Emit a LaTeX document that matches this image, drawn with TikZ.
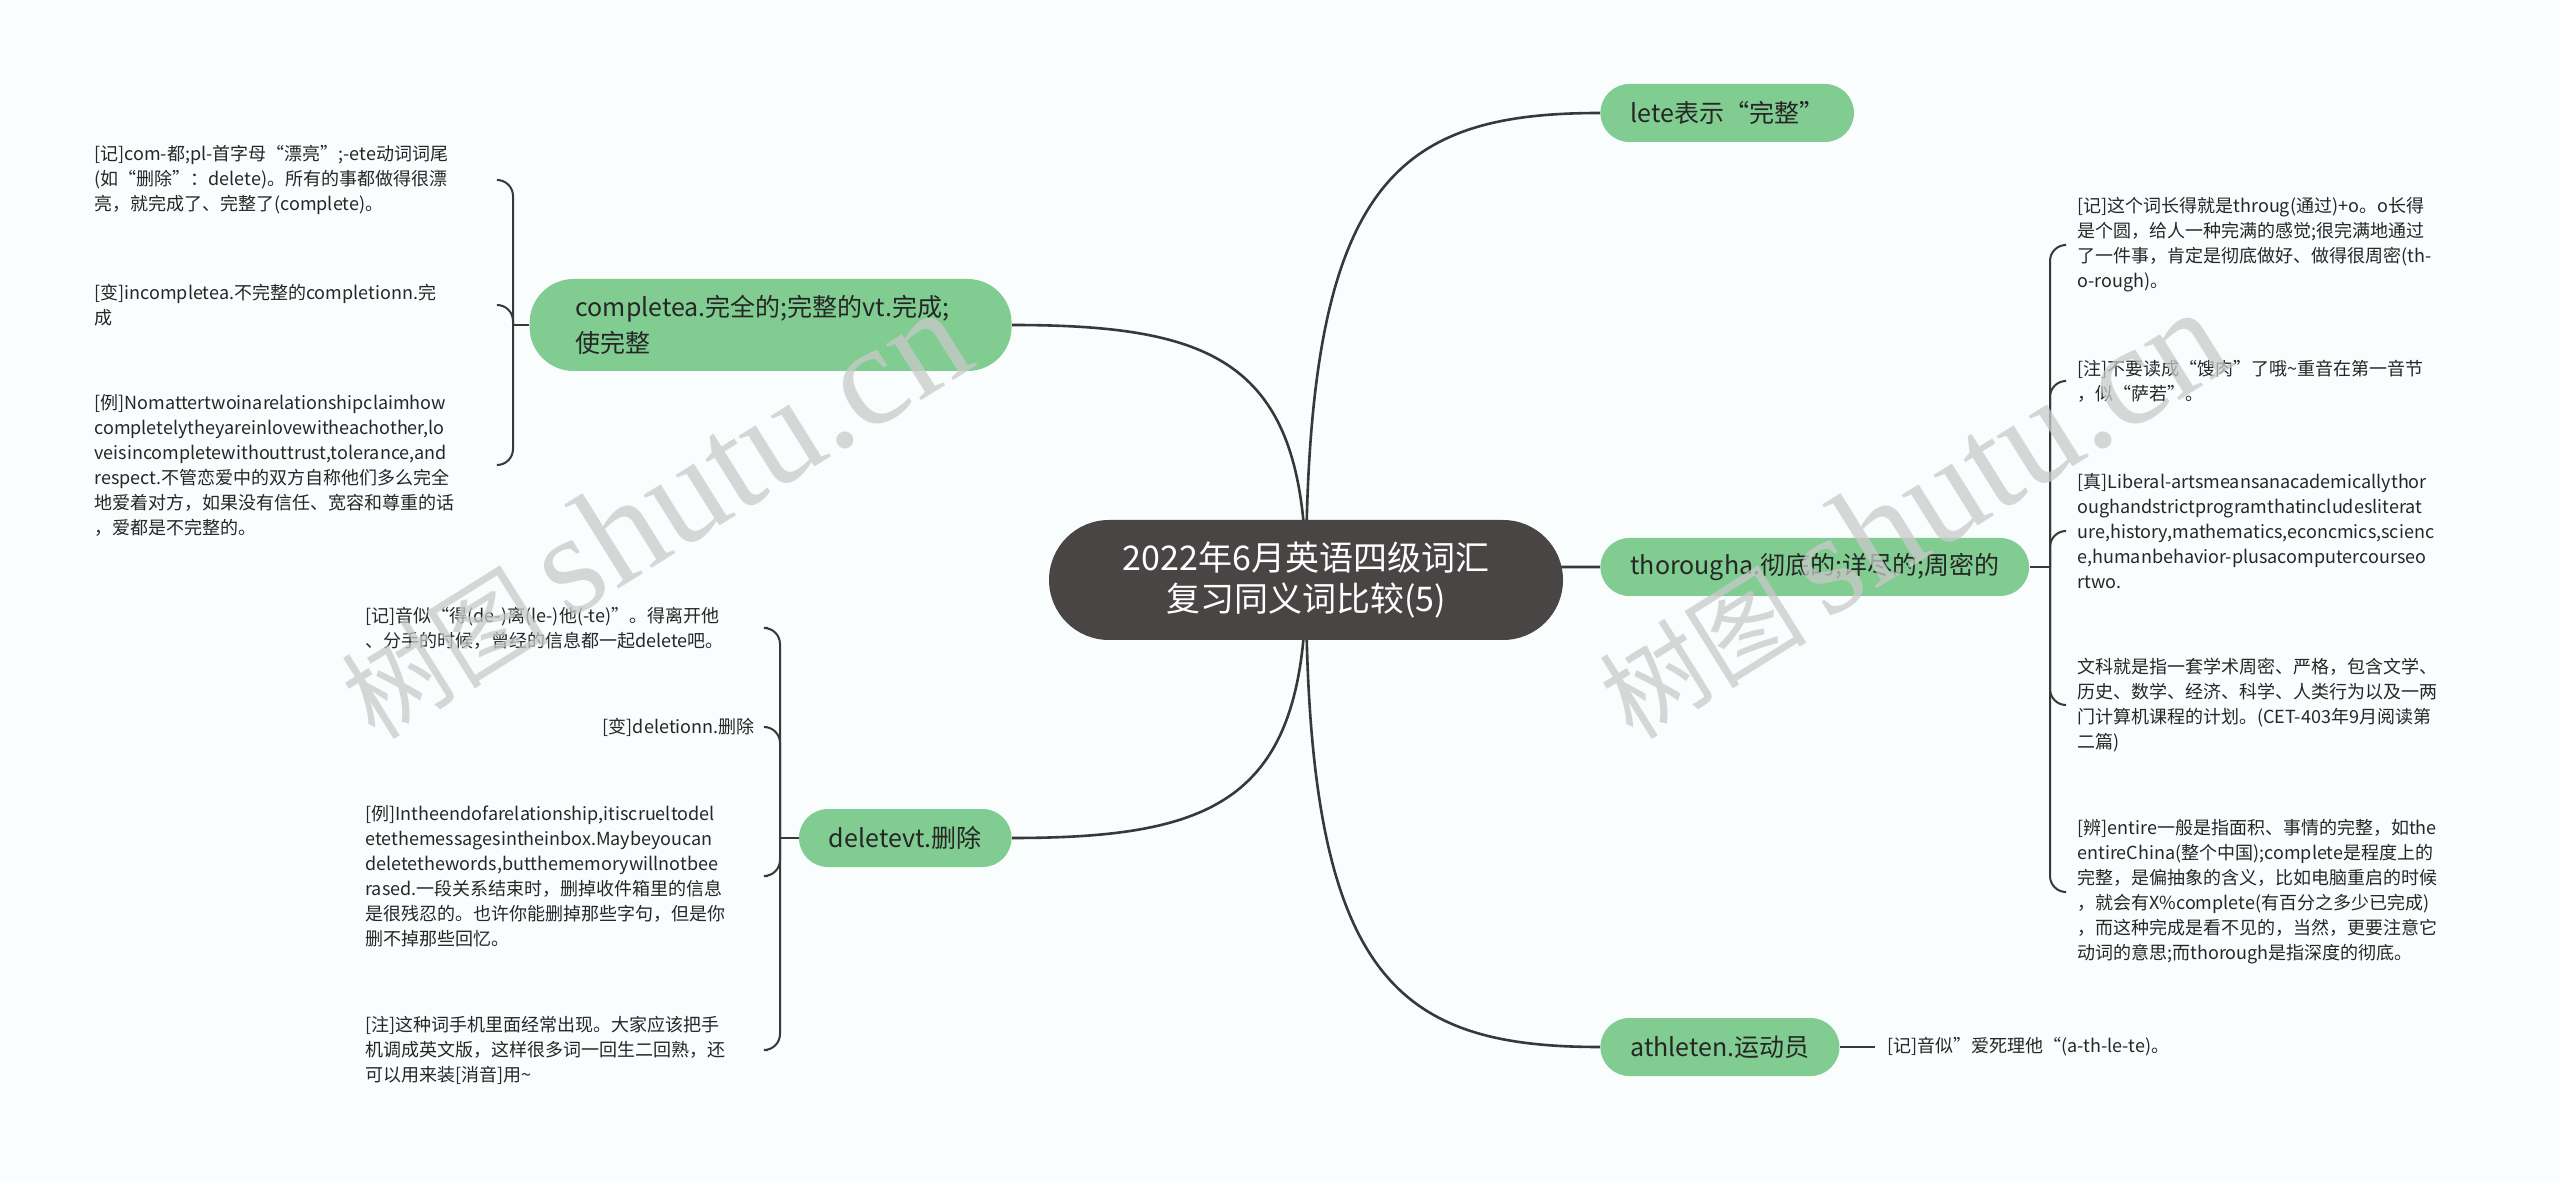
\documentclass[tikz,border=0pt]{standalone}
\usepackage{fontspec}
\setmainfont{Noto Sans CJK SC}
\newfontfamily\wmserif{Liberation Serif}
\usetikzlibrary{backgrounds}
\definecolor{bgwhite}{HTML}{FAFDFE}
\definecolor{rootgray}{HTML}{4A4545}
\definecolor{topicgreen}{HTML}{80CC91}
\definecolor{linegray}{HTML}{383838}
\definecolor{textdark}{HTML}{262626}
\definecolor{wmgray}{HTML}{C9C9C9}
\hyphenpenalty=10000
\exhyphenpenalty=10000

\begin{document}
\begin{tikzpicture}[x=0.5pt,y=-0.5pt,
        rootbox/.style={fill=rootgray, text=white, rounded corners=30pt, minimum width=257pt, minimum height=60pt, align=center, font=\fontsize{17}{20.5}\selectfont},
        topic/.style={fill=topicgreen, text=textdark, rounded corners=14.5pt, minimum height=29pt, inner xsep=15pt, font=\fontsize{12.5}{18}\selectfont},
        leaf/.style={text=textdark, text width=195pt, align=left, inner xsep=6pt, inner ysep=0pt, font=\fontsize{9}{12.5}\selectfont},
        leafline/.style={text=textdark, inner xsep=6pt, inner ysep=0pt, font=\fontsize{9}{12.5}\selectfont},
        mainlink/.style={draw=linegray, line width=1.3pt},
        sublink/.style={draw=linegray, line width=1pt, rounded corners=8pt},
        watermark/.style={text=wmgray, opacity=0.75, rotate=32}]

    \useasboundingbox (0,0) rectangle (2560,1181);

    % centre and main topics
    \node[rootbox] (root) at (1306,580) {2022年6月英语四级词汇\\复习同义词比较(5)};
    \node[topic, anchor=west] (lete) at (1600,113) {lete表示“完整”};
    \node[topic, anchor=west] (thorough) at (1600,567) {thorougha.彻底的;详尽的;周密的};
    \node[topic, anchor=west] (athlete) at (1600,1047) {athleten.运动员};
    \node[topic, anchor=east] (delete) at (1012,838) {deletevt.删除};
    \node[topic, anchor=east, text width=195pt, align=left, inner xsep=23pt, rounded corners=22pt, minimum height=46pt] (complete) at (1012,325) {completea.完全的;完整的vt.完成;\\使完整};

    % notes of complete
    \node[leaf, anchor=west] (c1) at (82,180) {[记]com-都;pl-首字母“漂亮”;-ete动词词尾\\(如“删除”：delete)。所有的事都做得很漂\\亮，就完成了、完整了(complete)。};
    \node[leaf, anchor=west] (c2) at (82,305) {[变]incompletea.不完整的completionn.完\\成};
    \node[leaf, anchor=west] (c3) at (82,465) {[例]Nomattertwoinarelationshipclaimhow\\completelytheyareinlovewitheachother,lo\\veisincompletewithouttrust,tolerance,and\\respect.不管恋爱中的双方自称他们多么完全\\地爱着对方，如果没有信任、宽容和尊重的话\\，爱都是不完整的。};

    % notes of delete
    \node[leaf, anchor=west] (d1) at (353,628) {[记]音似“得(de-)离(le-)他(-te)”。得离开他\\、分手的时候，曾经的信息都一起delete吧。};
    \node[leafline, anchor=east] (d2) at (767,727) {[变]deletionn.删除};
    \node[leaf, anchor=west] (d3) at (353,876) {[例]Intheendofarelationship,itiscrueltodel\\etethemessagesintheinbox.Maybeyoucan\\deletethewords,butthememorywillnotbee\\rased.一段关系结束时，删掉收件箱里的信息\\是很残忍的。也许你能删掉那些字句，但是你\\删不掉那些回忆。};
    \node[leaf, anchor=west] (d4) at (353,1050) {[注]这种词手机里面经常出现。大家应该把手\\机调成英文版，这样很多词一回生二回熟，还\\可以用来装[消音]用\textasciitilde};

    % notes of thorough
    \node[leaf, anchor=west] (t1) at (2065,245) {[记]这个词长得就是throug(通过)+o。o长得\\是个圆，给人一种完满的感觉;很完满地通过\\了一件事，肯定是彻底做好、做得很周密(th-\\o-rough)。};
    \node[leaf, anchor=west] (t2) at (2065,381) {[注]不要读成“馊肉”了哦\textasciitilde 重音在第一音节\\，似“萨若”。};
    \node[leaf, anchor=west] (t3) at (2065,531) {[真]Liberal-artsmeansanacademicallythor\\oughandstrictprogramthatincludesliterat\\ure,history,mathematics,econcmics,scienc\\e,humanbehavior-plusacomputercourseo\\rtwo.};
    \node[leaf, anchor=west] (t4) at (2065,705) {文科就是指一套学术周密、严格，包含文学、\\历史、数学、经济、科学、人类行为以及一两\\门计算机课程的计划。(CET-403年9月阅读第\\二篇)};
    \node[leaf, anchor=west] (t5) at (2065,892) {[辨]entire一般是指面积、事情的完整，如the\\entireChina(整个中国);complete是程度上的\\完整，是偏抽象的含义，比如电脑重启的时候\\，就会有X\%complete(有百分之多少已完成)\\，而这种完成是看不见的，当然，更要注意它\\动词的意思;而thorough是指深度的彻底。};

    % note of athlete
    \node[leafline, anchor=west] (a1) at (1875,1047) {[记]音似”爱死理他“(a-th-le-te)。};

    % bracket joints
    \coordinate (cj) at (513,325);
    \coordinate (dj) at (780,838);
    \coordinate (tj) at (2050,567);

    \begin{pgfonlayer}{background}
        \fill[bgwhite] (0,0) rectangle (2560,1181);
        % curves out of the centre
        \draw[mainlink] (root.center) .. controls +(0,-397) and +(-206,0) .. (lete.west);
        \draw[mainlink] (root.center) .. controls +(0,-13) and +(-206,0) .. (thorough.west);
        \draw[mainlink] (root.center) .. controls +(0,397) and +(-206,0) .. (athlete.west);
        \draw[mainlink] (root.center) .. controls +(0,-217) and +(206,0) .. (complete.east);
        \draw[mainlink] (root.center) .. controls +(0,219) and +(206,0) .. (delete.east);

        % brackets to the notes
        \draw[mainlink] (complete.west) -- (cj);
        \foreach \leafname in {c1,c2,c3}
            \draw[sublink] (cj) |- (\leafname.east);
        \draw[mainlink] (delete.west) -- (dj);
        \foreach \leafname in {d1,d2,d3,d4}
            \draw[sublink] (dj) |- (\leafname.east);
        \draw[mainlink] (thorough.east) -- (tj);
        \foreach \leafname in {t1,t2,t3,t4,t5}
            \draw[sublink] (tj) |- (\leafname.west);
        \draw[mainlink] (athlete.east) -- (a1.west);
    \end{pgfonlayer}

    % site marks
    \node[watermark] (wmleft) at (653,514) {\fontsize{52}{52}\selectfont 树图\hspace{10pt}{\fontsize{72}{72}\selectfont\wmserif shutu.cn}};
    \node[watermark] (wmright) at (1911,514) {\fontsize{52}{52}\selectfont 树图\hspace{10pt}{\fontsize{72}{72}\selectfont\wmserif shutu.cn}};
\end{tikzpicture}
\end{document}
